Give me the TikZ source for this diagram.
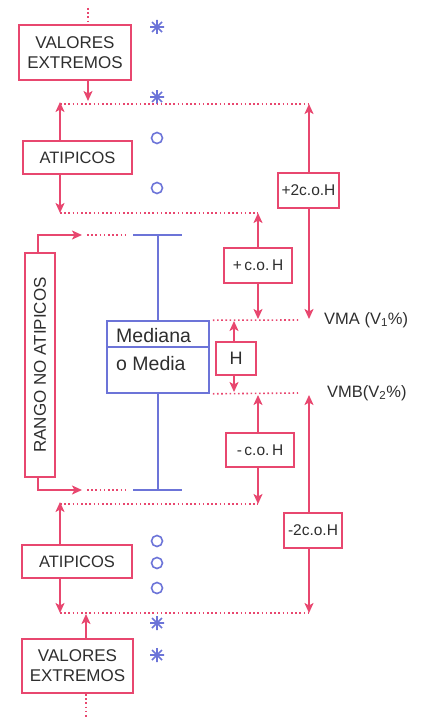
\documentclass[tikz,border=0pt]{standalone}
\usepackage{fontspec}
\setmainfont{Liberation Sans}
\usetikzlibrary{arrows.meta}
\definecolor{pk}{HTML}{E8476F}
\definecolor{bl}{HTML}{6C74D8}
\definecolor{tx}{HTML}{2E2E2E}
\begin{document}
\begin{tikzpicture}[x=1pt,y=-1pt,
  pbox/.style={draw=pk,line width=1.8pt,fill=white,inner sep=0pt,text=tx,align=center},
  bbox/.style={draw=bl,line width=1.6pt,inner sep=0pt},
  arr/.style={pk,line width=1.8pt,-{Stealth[length=10pt,width=9pt,inset=2.5pt]}},
  dots/.style={pk,line width=1.6pt,dash pattern=on 1.6pt off 2.6pt},
  bline/.style={bl,line width=1.7pt},
  sym/.style={bl,line width=1.6pt},
  big/.style={font=\fontsize{17}{20}\selectfont},
  mid/.style={font=\fontsize{16.5}{19}\selectfont},
  sm/.style={font=\fontsize{15.5}{18}\selectfont},
  lbl/.style={text=tx,inner sep=0pt,anchor=west,font=\fontsize{16.5}{19}\selectfont}]
\useasboundingbox (0,0) rectangle (422,717);

% boxes
\node[pbox,big,minimum width=112pt,minimum height=55pt] (ve1) at (75,52.5) {VALORES\\EXTREMOS};
\node[pbox,mid,minimum width=109pt,minimum height=33pt] (at1) at (77.5,157.5) {ATIPICOS};
\node[pbox,sm,minimum width=61pt,minimum height=35pt] (p2) at (308.5,190.5) {+2c.o.H};
\node[pbox,sm,minimum width=68pt,minimum height=35pt] (p1) at (258,265.5) {+\,c.o.\,H};
\node[pbox,font=\fontsize{18}{20}\selectfont,minimum width=40pt,minimum height=33pt] (hb) at (236,358.5) {H};
\node[pbox,sm,minimum width=68pt,minimum height=34pt] (m1) at (260,450) {-\,c.o.\,H};
\node[pbox,sm,minimum width=58pt,minimum height=35pt] (m2) at (313,530.5) {-2c.o.H};
\node[pbox,mid,minimum width=110pt,minimum height=33pt] (at2) at (77,561.5) {ATIPICOS};
\node[pbox,big,minimum width=111pt,minimum height=54pt] (ve2) at (77.5,666) {VALORES\\EXTREMOS};
\node[pbox,big,minimum width=224pt,minimum height=30pt,rotate=90] (rg) at (40,365) {RANGO NO ATIPICOS};
\node[bbox,minimum width=102pt,minimum height=72pt] (med) at (158,357) {};

% box plot
\coordinate (ml) at (107,347); \coordinate (mr) at (209,347);
\draw[bline] (ml -| med.west) -- (mr -| med.east);
\node[text=tx,inner sep=0pt,anchor=base west,font=\fontsize{19.5}{22}\selectfont] (mtx1) at (116,342) {Mediana};
\node[text=tx,inner sep=0pt,anchor=base west,font=\fontsize{19.5}{22}\selectfont] (mtx2) at (116,370) {o Media};
\coordinate (wtl) at (133,235); \coordinate (wtr) at (182,235); \coordinate (wt) at (158,235);
\coordinate (wbl) at (133,490); \coordinate (wbr) at (182,490); \coordinate (wb) at (158,490);
\draw[bline] (wtl) -- (wtr);
\draw[bline] (wbl) -- (wbr);
\draw[bline] (wt) -- (med.north);
\draw[bline] (med.south) -- (wb);

% symbols
\foreach \y in {27,97,623,655}
  \draw[sym] (157,\y) +(0,-7) -- +(0,7) +(-7,0) -- +(7,0) +(-5,-5) -- +(5,5) +(-5,5) -- +(5,-5);
\foreach \y in {138,188,541,563,588}
  \draw[sym] (157,\y) circle (5.5pt);

% dotted reference lines
\coordinate (d1l) at (60,104); \coordinate (d1r) at (309,104);
\coordinate (d2l) at (60,213); \coordinate (d2r) at (258,213);
\coordinate (d7l) at (60,504); \coordinate (d7r) at (258,504);
\coordinate (d8l) at (60,613); \coordinate (d8r) at (309,613);
\coordinate (vaR) at (298,320); \coordinate (vbR) at (298,393);
\draw[dots] (d1l) -- (d1r);
\draw[dots] (d2l) -- (d2r);
\draw[dots] (d7l) -- (d7r);
\draw[dots] (d8l) -- (d8r);
\draw[dots] ([xshift=3pt]med.north east) -- (vaR);
\draw[dots] ([xshift=3pt]med.south east) -- (vbR);
\coordinate (top) at (88,8); \coordinate (bot) at (86,717);
\draw[dots] (top) -- (ve1.north -| top);
\draw[dots] (ve2.south -| bot) -- (bot);

% labels
\node[lbl] (vma) at (324,320) {VMA (V\textsubscript{1}\%)};
\node[lbl] (vmb) at (327,393) {VMB(V\textsubscript{2}\%)};

% arrows
\coordinate (a1) at (88,101);
\draw[arr] (ve1.south -| a1) -- (a1);
\draw[arr] (at1.north -| d1l) -- ([yshift=2pt]d1l);
\draw[arr] (at1.south -| d2l) -- (d2l);
\draw[arr] (p2.north -| d1r) -- (d1r);
\coordinate (p2t) at (309,319);
\draw[arr] (p2.south -| p2t) -- (p2t);
\draw[arr] (p1.north -| d2r) -- (d2r);
\coordinate (p1t) at (258,319);
\draw[arr] (p1.south -| p1t) -- (p1t);
\coordinate (hu) at (234,321); \coordinate (hd) at (234,392);
\draw[arr] (hb.north -| hu) -- (hu);
\draw[arr] (hb.south -| hd) -- (hd);
\coordinate (m1t) at (258,395);
\draw[arr] (m1.north -| m1t) -- (m1t);
\draw[arr] (m1.south -| d7r) -- (d7r);
\coordinate (m2t) at (309,395);
\draw[arr] (m2.north -| m2t) -- (m2t);
\draw[arr] (m2.south -| d8r) -- (d8r);
\draw[arr] (at2.north -| d7l) -- ([yshift=2pt]d7l);
\draw[arr] (at2.south -| d8l) -- (d8l);
\coordinate (a2) at (86,614);
\draw[arr] (ve2.north -| a2) -- (a2);

% rango connectors
\coordinate (rx) at (38,0);
\coordinate (rt) at (82,235); \coordinate (rb) at (82,490);
\draw[arr] (rg.east -| rx) |- (rt);
\draw[arr] (rg.west -| rx) |- (rb);
\draw[dots] ([xshift=5pt]rt) -- ([xshift=-7pt]wtl);
\draw[dots] ([xshift=5pt]rb) -- ([xshift=-7pt]wbl);
\end{tikzpicture}
\end{document}
